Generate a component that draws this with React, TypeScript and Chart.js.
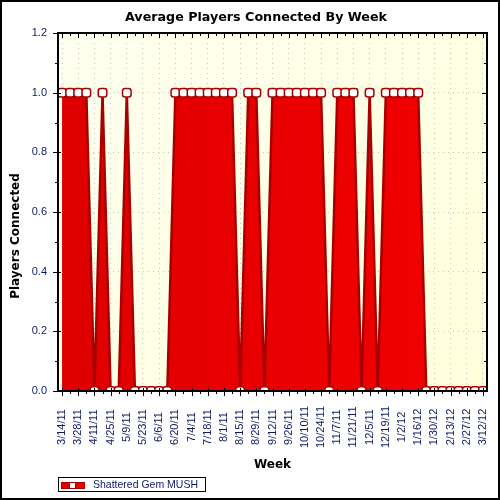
import React, { useEffect, useRef } from 'react';
import { Chart, registerables } from 'chart.js';

Chart.register(...registerables);

const chartTitle = 'Average Players Connected By Week';
const yAxisTitle = 'Players Connected';
const xAxisTitle = 'Week';
const seriesName = 'Shattered Gem MUSH';

const weeks = [
  '3/14/11', '3/21/11', '3/28/11', '4/4/11', '4/11/11', '4/18/11', '4/25/11', '5/2/11',
  '5/9/11', '5/16/11', '5/23/11', '5/30/11', '6/6/11', '6/13/11', '6/20/11', '6/27/11',
  '7/4/11', '7/11/11', '7/18/11', '7/25/11', '8/1/11', '8/8/11', '8/15/11', '8/22/11',
  '8/29/11', '9/5/11', '9/12/11', '9/19/11', '9/26/11', '10/3/11', '10/10/11', '10/17/11',
  '10/24/11', '10/31/11', '11/7/11', '11/14/11', '11/21/11', '11/28/11', '12/5/11', '12/12/11',
  '12/19/11', '12/26/11', '1/2/12', '1/9/12', '1/16/12', '1/23/12', '1/30/12', '2/6/12',
  '2/13/12', '2/20/12', '2/27/12', '3/5/12', '3/12/12',
];

const playersConnected = [
  1, 1, 1, 1, 0, 1, 0, 0,
  1, 0, 0, 0, 0, 0, 1, 1,
  1, 1, 1, 1, 1, 1, 0, 1,
  1, 0, 1, 1, 1, 1, 1, 1,
  1, 0, 1, 1, 1, 0, 1, 0,
  1, 1, 1, 1, 1, 0, 0, 0,
  0, 0, 0, 0, 0,
];

const yMin = 0;
const yMax = 1.2;
const yMinorStep = 0.05;

const NAVY = '#0c1a66';
const DARK_RED = '#a80000';
const GRID = '#c4c4c4';
const TICK_FONT = { family: '"Liberation Sans", Arial, sans-serif', size: 11 };
const TITLE_FAMILY = '"DejaVu Sans", Verdana, sans-serif';

const isMajorY = (v: number) => Math.round(v * 100) % 20 === 0;

const decorPlugin = {
  id: 'decor',
  beforeDraw(chart: any) {
    const { ctx, chartArea: a } = chart;
    ctx.save();
    ctx.fillStyle = '#ffffff';
    ctx.fillRect(0, 0, chart.width, chart.height);
    const g = ctx.createLinearGradient(a.left, a.top, a.right, a.bottom);
    g.addColorStop(0, '#fffff0');
    g.addColorStop(1, '#ffffdc');
    ctx.fillStyle = g;
    ctx.fillRect(a.left, a.top, a.right - a.left, a.bottom - a.top);
    ctx.restore();
  },
  afterDraw(chart: any) {
    const { ctx, chartArea: a, scales } = chart;
    const xs = scales.x;
    const ys = scales.y;
    ctx.save();

    // tick marks on all four sides
    ctx.strokeStyle = '#000';
    ctx.lineWidth = 1;
    ctx.beginPath();
    xs.ticks.forEach((_t: any, i: number) => {
      const px = Math.round(xs.getPixelForTick(i)) + 0.5;
      const major = i % 2 === 0;
      ctx.moveTo(px, a.bottom - (major ? 3 : 0));
      ctx.lineTo(px, a.bottom + (major ? 5 : 3));
      ctx.moveTo(px, a.top);
      ctx.lineTo(px, a.top + (major ? 5 : 3));
    });
    ys.ticks.forEach((t: any) => {
      const py = Math.round(ys.getPixelForValue(t.value)) + 0.5;
      const major = isMajorY(t.value);
      ctx.moveTo(a.left - (major ? 5 : 3), py);
      ctx.lineTo(a.left + (major ? 3 : 0), py);
      ctx.moveTo(a.right - (major ? 5 : 3), py);
      ctx.lineTo(a.right, py);
    });
    ctx.stroke();

    // x tick labels, rotated and centred on their own middle
    ctx.fillStyle = NAVY;
    ctx.font = `${TICK_FONT.size}px ${TICK_FONT.family}`;
    ctx.textAlign = 'center';
    ctx.textBaseline = 'middle';
    xs.ticks.forEach((_t: any, i: number) => {
      if (i % 2 !== 0) return;
      const px = xs.getPixelForTick(i);
      ctx.save();
      ctx.translate(px, a.bottom + 36);
      ctx.rotate(-Math.PI / 2);
      ctx.fillText(xs.getLabelForValue(i), 0, 0);
      ctx.restore();
    });

    // plot frame
    ctx.strokeStyle = '#000';
    ctx.lineWidth = 2;
    ctx.strokeRect(a.left, a.top, a.right - a.left, a.bottom - a.top);

    // outer frame
    ctx.strokeRect(1, 1, chart.width - 2, chart.height - 2);

    // titles
    ctx.fillStyle = '#000';
    ctx.textAlign = 'center';
    ctx.textBaseline = 'middle';
    ctx.font = `bold 12.7px ${TITLE_FAMILY}`;
    ctx.fillText(chartTitle, 256, 18);
    ctx.font = `bold 12px ${TITLE_FAMILY}`;
    ctx.fillText(xAxisTitle, (a.left + a.right) / 2, 465);
    ctx.save();
    ctx.translate(16, 236);
    ctx.rotate(-Math.PI / 2);
    ctx.fillText(yAxisTitle, 0, 0);
    ctx.restore();

    // legend
    ctx.lineWidth = 1;
    ctx.strokeStyle = '#000';
    ctx.strokeRect(58.5, 477.5, 147, 14);
    ctx.fillStyle = '#e80000';
    ctx.fillRect(61, 482, 24, 7);
    ctx.strokeStyle = DARK_RED;
    ctx.strokeRect(61.5, 482.5, 23, 6);
    ctx.fillStyle = '#fff';
    ctx.fillRect(70, 483, 5, 5);
    ctx.strokeRect(69.5, 482.5, 6, 6);
    ctx.fillStyle = NAVY;
    ctx.textAlign = 'left';
    ctx.font = `10.5px ${TICK_FONT.family}`;
    ctx.fillText(seriesName, 93, 485);

    ctx.restore();
  },
};

export default function App() {
  const canvasRef = useRef<HTMLCanvasElement | null>(null);

  useEffect(() => {
    const canvas = canvasRef.current;
    if (!canvas) return;
    const chart = new Chart(canvas, {
      type: 'line',
      data: {
        labels: weeks,
        datasets: [
          {
            label: seriesName,
            data: playersConnected,
            fill: 'origin',
            backgroundColor: (c: any) => {
              const a = c.chart.chartArea;
              if (!a) return '#e80000';
              const g = c.chart.ctx.createLinearGradient(a.left, 0, a.right, 0);
              g.addColorStop(0, '#de0000');
              g.addColorStop(1, '#f40000');
              return g;
            },
            borderColor: DARK_RED,
            borderWidth: 2.5,
            tension: 0,
            pointStyle: 'rectRounded',
            pointRadius: 5,
            pointBackgroundColor: '#ffffff',
            pointBorderColor: DARK_RED,
            pointBorderWidth: 1.5,
          },
        ],
      },
      options: {
        animation: false,
        responsive: false,
        devicePixelRatio: 1,
        layout: { padding: { top: 33, right: 13, bottom: 24, left: 0 } },
        plugins: {
          legend: { display: false },
          title: { display: false },
          tooltip: { enabled: false },
        },
        scales: {
          x: {
            type: 'category',
            offset: true,
            grid: {
              color: (c: any) => (c.index % 2 === 0 ? GRID : 'rgba(0,0,0,0)'),
              lineWidth: 1,
              drawTicks: false,
            },
            border: { display: false, dash: [1, 4] },
            ticks: {
              display: false,
              autoSkip: false,
            },
            afterFit: (s: any) => {
              s.height = 85;
            },
          },
          y: {
            min: yMin,
            max: yMax,
            grid: {
              color: (c: any) => (c.tick && isMajorY(c.tick.value) ? GRID : 'rgba(0,0,0,0)'),
              lineWidth: 1,
              drawTicks: true,
              tickLength: 8,
              tickColor: 'rgba(0,0,0,0)',
            },
            border: { display: false, dash: [1, 4] },
            ticks: {
              stepSize: yMinorStep,
              padding: 3,
              font: TICK_FONT,
              color: NAVY,
              callback: (v: any) => (isMajorY(Number(v)) ? Number(v).toFixed(1) : ''),
            },
            afterFit: (s: any) => {
              s.width = 58;
            },
          },
        },
      },
      plugins: [decorPlugin],
    });
    return () => chart.destroy();
  }, []);

  return (
    <div style={{ position: 'absolute', left: 0, top: 0, width: 500, height: 500 }}>
      <canvas ref={canvasRef} width={500} height={500} style={{ display: 'block', width: 500, height: 500 }} />
    </div>
  );
}
